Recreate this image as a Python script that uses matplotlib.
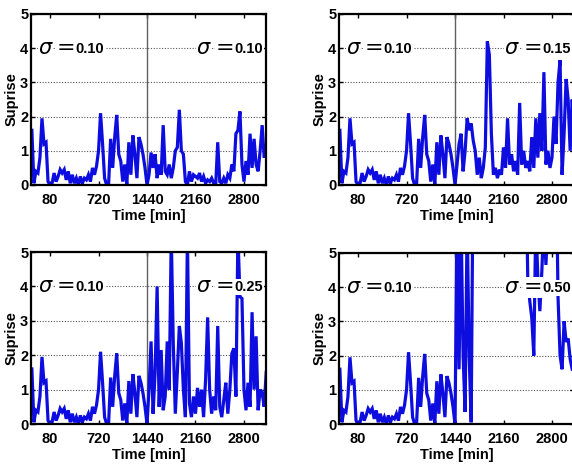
import numpy as np
import matplotlib
matplotlib.use("Agg")
import matplotlib.pyplot as plt
from matplotlib import font_manager

# ---------------- data ----------------
# sampling grid (30-min steps)
t_first = np.arange(-270, 1441, 30)      # 58 samples, sigma = 0.10 part
t_second = np.arange(1470, 3211, 30)     # 59 samples, second part

baseline = [1.6, 0.05, 0.4, 0.35, 0.8, 1.95, 1.2, 1.25, 0.1, 0.0,
            0.05, 0.35, 0.1, 0.25, 0.45, 0.35, 0.45, 0.15, 0.4, 0.05,
            0.3, 0.05, 0.2, 0.0, 0.25, 0.05, 0.2, 0.15, 0.3, 0.1,
            0.5, 0.3, 0.55, 1.0, 2.1, 1.2, 0.2, 0.0, 0.05, 1.35,
            0.5, 1.4, 2.05, 0.9, 0.7, 0.1, 0.6, 0.0, 1.25, 0.3,
            1.45, 0.9, 0.2, 1.4, 1.2, 0.9, 0.5, 0.0]

second_010 = [0.3, 0.95, 0.5, 0.9, 0.2, 0.6, 0.3, 1.75, 0.4, 0.3,
              0.6, 0.2, 0.5, 1.0, 1.1, 2.2, 1.0, 0.9, 0.1, 0.0,
              0.4, 0.1, 0.3, 0.25, 0.2, 0.35, 0.1, 0.25, 0.05, 0.15,
              0.1, 0.2, 0.05, 0.0, 1.25, 0.1, 0.05, 0.2, 0.05, 0.3,
              0.2, 0.6, 0.4, 1.5, 1.6, 2.15, 0.6, 0.1, 0.7, 0.3,
              1.5, 0.5, 1.35, 0.6, 0.4, 1.0, 1.75, 0.8, 1.0]

second_015 = [0.6, 1.2, 1.5, 0.4, 1.0, 1.95, 1.6, 1.8, 1.3, 1.0,
              0.3, 0.8, 0.2, 0.5, 1.1, 4.2, 3.8, 1.5, 0.3, 0.5,
              0.2, 0.45, 0.3, 1.1, 0.5, 1.95, 0.6, 0.9, 0.4, 0.7,
              0.3, 2.4, 0.6, 1.0, 0.5, 0.7, 0.4, 1.4, 0.5, 1.95,
              0.8, 2.1, 1.0, 3.3, 0.6, 1.0, 0.5, 0.8, 2.0, 1.2,
              3.0, 3.65, 0.3, 1.5, 3.1, 2.5, 1.0, 2.5, 1.5]

second_025 = [1.0, 2.4, 0.3, 1.5, 4.0, 0.5, 2.15, 0.4, 0.8, 2.4,
              1.0, 5.5, 2.35, 0.3, 1.5, 2.85, 2.35, 1.0, 0.2, 5.5,
              0.6, 0.2, 0.8, 0.3, 1.05, 0.5, 1.0, 0.2, 1.3, 3.1,
              1.0, 0.3, 0.8, 0.4, 2.85, 0.5, 0.2, 0.7, 1.2, 0.3,
              1.0, 2.05, 2.2, 0.8, 5.5, 3.7, 3.65, 1.0, 0.4, 1.2,
              0.5, 3.25, 1.0, 2.55, 0.4, 1.0, 0.9, 0.5, 1.5]

second_050 = [6.0, 1.6, 6.0, 2.0, 0.35, 6.0, 2.0, 0.05, 8.0, 8.0,
              8.0, 8.0, 8.0, 8.0, 8.0, 8.0, 8.0, 8.0, 8.0, 8.0,
              8.0, 8.0, 8.0, 8.0, 8.0, 8.0, 8.0, 8.0, 8.0, 8.0,
              8.0, 8.0, 8.0, 8.0, 8.0, 4.3, 3.6, 3.1, 2.0, 6.0,
              4.3, 3.3, 4.5, 6.0, 4.65, 6.0, 8.0, 8.0, 8.0, 8.0,
              3.7, 2.0, 1.6, 3.0, 2.4, 2.5, 1.9, 1.6, 1.6]

sigma_left = "0.10"
sigma_right = ["0.10", "0.15", "0.25", "0.50"]
second_parts = [second_010, second_015, second_025, second_050]

xtick_pos = [0, 720, 1440, 2160, 2880]
xtick_labels = ["80", "720", "1440", "2160", "2800"]
yticks = [0, 1, 2, 3, 4, 5]
xlabel = "Time [min]"
ylabel = "Suprise"

# ---------------- fonts ----------------
avail = {f.name for f in font_manager.fontManager.ttflist}
narrow = "Liberation Sans Narrow" if "Liberation Sans Narrow" in avail else "Liberation Sans"
lab_font = [narrow, "DejaVu Sans"]

# ---------------- figure ----------------
W, H = 572, 465
fig = plt.figure(figsize=(W / 100, H / 100), dpi=100)

def px_rect(l, t, r, b):
    return [l / W, (H - b) / H, (r - l) / W, (b - t) / H]

rects = [px_rect(31, 14, 266, 185), px_rect(339, 14, 574, 185),
         px_rect(31, 252, 266, 424), px_rect(339, 253, 574, 424)]

blue = "#0d0de0"
t_all = np.concatenate([t_first, t_second])
wbox = dict(facecolor="white", edgecolor="none", pad=0.5)

for i, rect in enumerate(rects):
    ax = fig.add_axes(rect)
    y_all = np.concatenate([baseline, second_parts[i]])
    ax.plot(t_all, y_all, color=blue, lw=2.3, zorder=3, clip_on=True,
            solid_joinstyle="miter")
    ax.axvline(1440, color="#606060", lw=1.0, zorder=2)
    ax.set_xlim(-283, 3207)
    ax.set_ylim(0, 5)
    ax.set_xticks(xtick_pos)
    ax.set_xticklabels(xtick_labels)
    ax.set_yticks(yticks)
    ax.yaxis.grid(True, linestyle=(0, (1, 1.5)), color="#555555", lw=0.8)
    ax.set_axisbelow(True)
    for s in ax.spines.values():
        s.set_linewidth(1.6)
        s.set_color("black")
        s.set_zorder(5)
    ax.tick_params(direction="in", top=True, right=True, length=3, width=1.0)
    ax.tick_params(axis="x", pad=6)
    ax.tick_params(axis="y", pad=2)
    for lab in ax.get_xticklabels() + ax.get_yticklabels():
        lab.set_fontfamily(lab_font)
        lab.set_fontweight("bold")
        lab.set_fontsize(10.5)
    ax.set_xlabel(xlabel, fontfamily=lab_font, fontweight="bold", fontsize=10.5, labelpad=1)
    ax.set_ylabel(ylabel, fontfamily=lab_font, fontweight="bold", fontsize=10.5, labelpad=1)

    for xs, val in [(-175, sigma_left), (2180, sigma_right[i])]:
        t1 = ax.text(xs, 4.0, "σ", fontsize=15, style="italic", family=["DejaVu Sans"],
                     va="center", ha="left", zorder=4, bbox=wbox)
        t2 = ax.annotate("=", xy=(1, 0.5), xycoords=t1, xytext=(4, 0),
                         textcoords="offset points", va="center", ha="left",
                         fontsize=16, family=["DejaVu Sans"], zorder=4, bbox=wbox)
        ax.annotate(val, xy=(1, 0.5), xycoords=t2, xytext=(0, -0.5),
                    textcoords="offset points", va="center", ha="left",
                    fontsize=10.5, fontweight="bold", family=lab_font, zorder=4,
                    bbox=wbox)

fig.savefig("out.png", dpi=100)
